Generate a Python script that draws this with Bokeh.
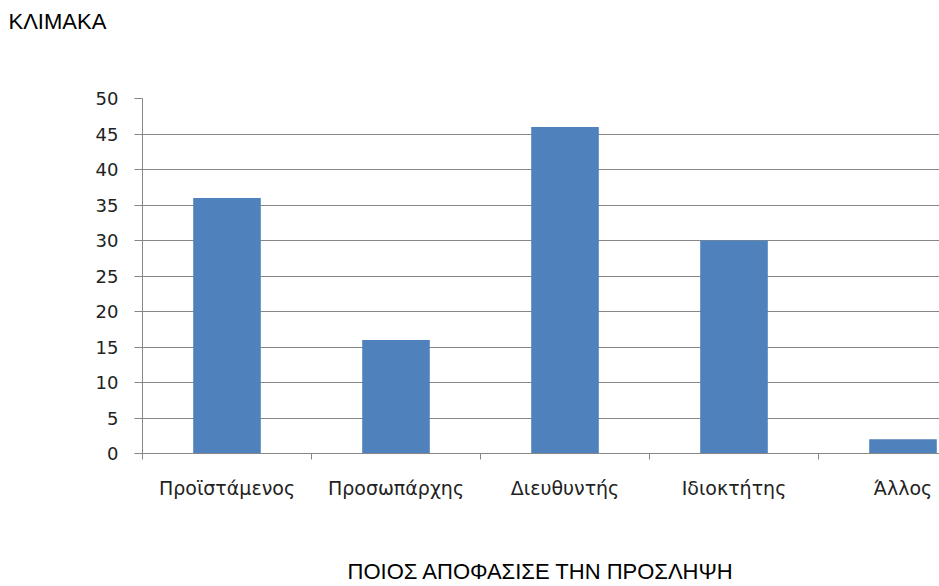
from bokeh.plotting import figure
from bokeh.models import Range1d, FixedTicker, Title, ColumnDataSource
from bokeh.embed import file_html
from bokeh.resources import INLINE

# Who decided on the hiring, count of answers per category
categories = ["Προϊστάμενος", "Προσωπάρχης", "Διευθυντής", "Ιδιοκτήτης", "Άλλος"]
counts = [36, 16, 46, 30, 2]
y_ticks = [0, 5, 10, 15, 20, 25, 30, 35, 40, 45, 50]
title_text = "ΚΛΙΜΑΚΑ"
x_title_text = "ΠΟΙΟΣ ΑΠΟΦΑΣΙΣΕ ΤΗΝ ΠΡΟΣΛΗΨΗ"

W, H = 939, 586
left, top, bottom = 142, 98, 133
frame_w = W - left
cat_px = 169.0  # width of one category slot in pixels

centers = [i + 0.5 for i in range(len(categories))]
source = ColumnDataSource(dict(x=centers, top=counts))

p = figure(width=W, height=H, output_backend="svg", toolbar_location=None,
           x_range=Range1d(0, frame_w / cat_px), y_range=Range1d(0, 50),
           min_border_left=left, min_border_right=0,
           min_border_top=top, min_border_bottom=bottom)
p.outline_line_color = None
p.background_fill_color = "white"
p.border_fill_color = "white"

p.vbar(x="x", top="top", bottom=0, width=0.4, source=source,
       fill_color="#4F81BD", line_color=None)

grey = "#868686"
label_color = "#222222"

# y axis
ya = p.yaxis[0]
ya.ticker = FixedTicker(ticks=y_ticks)
ya.axis_line_color = grey
ya.major_tick_line_color = grey
ya.major_tick_out = 8
ya.major_tick_in = 0
ya.minor_tick_line_color = None
ya.major_label_text_font = "DejaVu Sans"
ya.major_label_text_font_size = "18px"
ya.major_label_text_color = label_color
ya.major_label_standoff = 16

p.ygrid.ticker = FixedTicker(ticks=y_ticks)
p.ygrid.grid_line_color = grey
p.ygrid.grid_line_width = 1
p.xgrid.grid_line_color = None

# x axis: labels at category centres, separator ticks at the boundaries
xa = p.xaxis[0]
xa.ticker = FixedTicker(ticks=centers, minor_ticks=list(range(len(categories) + 1)))
xa.major_label_overrides = {c: lab for c, lab in zip(centers, categories)}
xa.axis_line_color = grey
xa.major_tick_line_color = None
xa.major_tick_out = 0
xa.major_tick_in = 0
xa.minor_tick_line_color = grey
xa.minor_tick_out = 6
xa.minor_tick_in = 0
xa.major_label_text_font = "DejaVu Sans"
xa.major_label_text_font_size = "19px"
xa.major_label_text_color = label_color
xa.major_label_standoff = 17

# horizontal caption under the category labels
xa.axis_label = x_title_text
xa.axis_label_text_font = "Liberation Sans"
xa.axis_label_text_font_size = "22px"
xa.axis_label_text_font_style = "normal"
xa.axis_label_text_color = "black"
xa.axis_label_standoff = 57

# empty band between the heading and the plot area
p.add_layout(Title(text=" ", text_font="Liberation Sans", text_font_size="22px",
                   standoff=28), "above")
# chart heading in the top-left corner
p.add_layout(Title(text=title_text, align="left", offset=8 - left,
                   vertical_align="top",
                   text_font="Liberation Sans", text_font_size="22px",
                   text_font_style="normal", text_color="black",
                   standoff=16), "above")

open("out.html", "w").write(file_html(p, INLINE))
